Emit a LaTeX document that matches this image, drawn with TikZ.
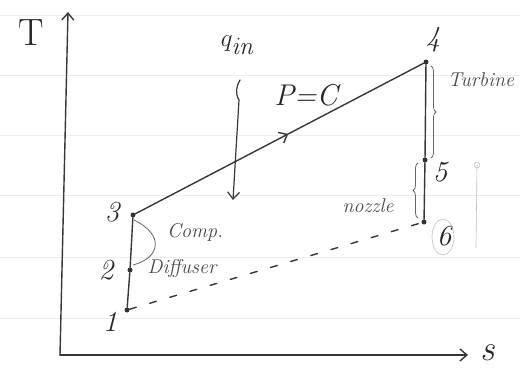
\documentclass[tikz,border=0pt]{standalone}
\usetikzlibrary{arrows.meta,decorations.pathreplacing,decorations.markings}
\begin{document}
\begin{tikzpicture}[x=1pt,y=-1pt,
  ink/.style={draw=black!78,line width=1.4pt,line cap=round},
  thin ink/.style={draw=black!60,line width=0.8pt,line cap=round},
  rule/.style={draw=black!7,line width=0.8pt},
  lbl/.style={text=black!85,font=\fontsize{29}{29}\selectfont\itshape,inner sep=1pt},
  small lbl/.style={text=black!72,font=\fontsize{20}{20}\selectfont\itshape,inner sep=1pt},
  dot/.style={circle,fill=black!80,inner sep=0pt,minimum size=5pt}]
\useasboundingbox (0,0) rectangle (528,376);
\fill[white] (0,0) rectangle (528,376);
% ruled paper lines
\foreach \yy in {15,75,135,195,257,318}
  \draw[rule] (0,\yy) -- (520,\yy);
% axes
\coordinate (O) at (60,355);
\coordinate (Ttop) at (68,12);
\coordinate (Send) at (468,355);
\draw[ink,-{Straight Barb[length=7pt,width=12pt]}] (O) -- (Ttop);
\draw[ink,-{Straight Barb[length=7pt,width=12pt]}] (O) -- (Send);
\node[lbl,font=\fontsize{38}{38}\selectfont] (Tl) at (31,33) {T};
\node[lbl,font=\fontsize{36}{36}\selectfont\itshape] (Sl) at (488,353) {s};
% state points
\node[dot] (p1) at (127,310) {};
\node[dot] (p2) at (130,270) {};
\node[dot] (p3) at (133,215) {};
\node[dot] (p4) at (426,62) {};
\node[dot] (p5) at (425,160) {};
\node[dot] (p6) at (424,222) {};
\node[lbl] (l1) at (110,322) {1};
\node[lbl] (l2) at (106,270) {2};
\node[lbl] (l3) at (112,212) {3};
\node[lbl] (l4) at (433,40) {4};
\node[lbl] (l5) at (440,172) {5};
\node[lbl] (l6) at (444,236) {6};
% process lines
\draw[ink] (p1) -- (p2) -- (p3);
\draw[ink,postaction={decorate},decoration={markings,mark=at position 0.53 with {\arrow{Straight Barb[length=7pt,width=12pt]}}}] (p3) -- (p4);
\draw[ink] (p4) -- (p5) -- (p6);
\draw[ink,dashed,dash pattern=on 7pt off 14pt] (p1) -- (p6);
% heat input
\node[lbl,font=\fontsize{38}{38}\selectfont] (q) at (238,45) {$q_{\mathit{in}}$};
\coordinate (qa) at (240,80);
\coordinate (qb) at (233,200);
\draw[ink,line width=1.2pt,-{Straight Barb[length=7pt,width=12pt]}] (qa) to[out=-120,in=120] (239,100) -- (qb);
\node[lbl,font=\fontsize{30}{30}\selectfont\itshape] (pc) at (306,95) {P=C};
% braces and component labels
\draw[thin ink,decorate,decoration={brace,amplitude=5pt}] (431,66) -- (431,158);
\node[small lbl] (turb) at (481,80) {Turbine};
\draw[thin ink,decorate,decoration={brace,amplitude=5pt}] (418,218) -- (418,163);
\node[small lbl] (noz) at (368,206) {nozzle};
\coordinate (c3) at (134,220);
\coordinate (c2) at (133,265);
\draw[thin ink] (c3) .. controls (165,235) and (160,258) .. (c2);
\node[small lbl] (comp) at (195,232) {Comp.};
\node[small lbl] (diff) at (182,268) {Diffuser};
% faint marks
\draw[draw=black!25,line width=0.6pt] (443,237) ellipse (11pt and 18pt);
\coordinate (fa) at (477,165);
\coordinate (fb) at (476,248);
\draw[draw=black!25,line width=0.6pt] (fa) -- (fb);
\draw[draw=black!25,line width=0.6pt] (fa) circle (3pt);
\end{tikzpicture}
\end{document}
